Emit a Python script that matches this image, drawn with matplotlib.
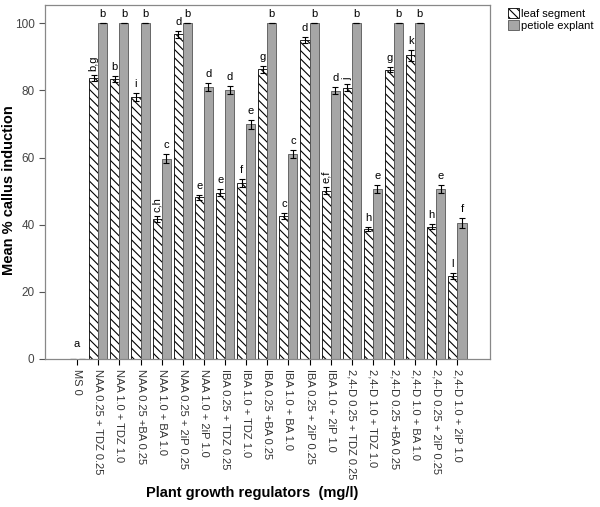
import numpy as np
import matplotlib.pyplot as plt

plt.rcParams["font.family"] = ["Liberation Sans", "DejaVu Sans"]
plt.rcParams["hatch.linewidth"] = 0.8

treatments = ["MS 0", "NAA 0.25 + TDZ 0.25", "NAA 1.0 + TDZ 1.0", "NAA 0.25 +BA 0.25",
              "NAA 1.0 + BA 1.0", "NAA 0.25 + 2iP 0.25", "NAA 1.0 + 2iP 1.0",
              "IBA 0.25 + TDZ 0.25", "IBA 1.0 + TDZ 1.0", "IBA 0.25 +BA 0.25",
              "IBA 1.0 + BA 1.0", "IBA 0.25 + 2iP 0.25", "IBA 1.0 + 2iP 1.0",
              "2,4-D 0.25 + TDZ 0.25", "2,4-D 1.0 + TDZ 1.0", "2,4-D 0.25 +BA 0.25",
              "2,4-D 1.0 + BA 1.0", "2,4-D 0.25 + 2iP 0.25", "2,4-D 1.0 + 2iP 1.0"]

leaf = [0, 83.7, 83.5, 78.0, 41.7, 96.7, 48.1, 49.5, 52.5, 86.3,
        42.6, 95.1, 50.1, 80.8, 38.7, 86.2, 90.4, 39.4, 24.7]
leaf_err = [0, 1.0, 0.9, 1.1, 0.9, 1.1, 0.8, 1.0, 1.2, 1.0,
            1.0, 0.9, 1.0, 1.0, 0.6, 0.8, 1.6, 0.8, 0.9]
petiole = [0, 100, 100, 100, 59.7, 100, 81.0, 80.1, 69.9, 100,
           61.0, 100, 79.9, 100, 50.5, 100, 100, 50.5, 40.6]
petiole_err = [0, 0, 0, 0, 1.3, 0, 1.3, 1.2, 1.3, 0,
               1.2, 0, 1.0, 0, 1.2, 0, 0, 1.2, 1.5]

leaf_letters = ["a", "b,g", "b", "i", "c,h", "d", "e", "e", "f", "g",
                "c", "d", "e,f", "j", "h", "g", "k", "h", "l"]
petiole_letters = ["", "b", "b", "b", "c", "b", "d", "d", "e", "b",
                   "c", "b", "d", "b", "e", "b", "b", "e", "f"]
rotated = {"b,g", "c,h", "e,f", "j"}

x = np.arange(len(treatments))
w = 0.43

fig = plt.figure(figsize=(6.0, 5.07), dpi=100)
ax = fig.add_axes([0.075, 0.292, 0.742, 0.698])

ax.bar(x - w / 2, leaf, w, yerr=leaf_err, color="white", edgecolor="black",
       hatch="\\\\\\\\", linewidth=0.6, label="leaf segment",
       error_kw=dict(ecolor="black", elinewidth=0.8, capsize=2, capthick=0.8))
ax.bar(x + w / 2, petiole, w, yerr=petiole_err, color="#a6a6a6", edgecolor="#555555",
       linewidth=0.6, label="petiole explant",
       error_kw=dict(ecolor="black", elinewidth=0.8, capsize=2, capthick=0.8))

# significance letters
for i in range(len(x)):
    if i == 0:
        ax.text(x[i], 3, leaf_letters[i], ha="center", va="bottom", fontsize=8)
        continue
    lt = leaf_letters[i]
    top = leaf[i] + leaf_err[i] + 1.2
    if lt in rotated:
        ax.text(x[i] - w / 2, top, lt, ha="center", va="bottom", fontsize=8, rotation=90)
    else:
        ax.text(x[i] - w / 2, top, lt, ha="center", va="bottom", fontsize=8)
    pt = petiole_letters[i]
    ax.text(x[i] + w / 2, petiole[i] + petiole_err[i] + 1.2, pt,
            ha="center", va="bottom", fontsize=8)

ax.set_xlim(-1.52, 19.55)
ax.set_ylim(0, 105.4)
ax.set_yticks([0, 20, 40, 60, 80, 100])
ax.set_xticks(x)
ax.set_xticklabels(treatments, rotation=270, fontsize=8, color="#333333")
ax.tick_params(axis="y", labelsize=8.5, labelcolor="#444444", color="#555555", length=4)
ax.tick_params(axis="x", length=4, color="black")
for s in ax.spines.values():
    s.set_color("#888888")
    s.set_linewidth(0.9)

fig.text(0.015, 0.625, "Mean % callus induction", rotation=90, ha="center", va="center",
         fontsize=10.5, fontweight="bold")
fig.text(0.42, 0.02, "Plant growth regulators  (mg/l)", ha="center",
         fontsize=10.5, fontweight="bold")

ax.legend(loc="upper left", bbox_to_anchor=(1.03, 1.005), frameon=False,
          fontsize=8, handlelength=1.0, handleheight=1.0, handletextpad=0.2,
          labelspacing=0.15, borderaxespad=0)

fig.savefig("out.png", dpi=100)
